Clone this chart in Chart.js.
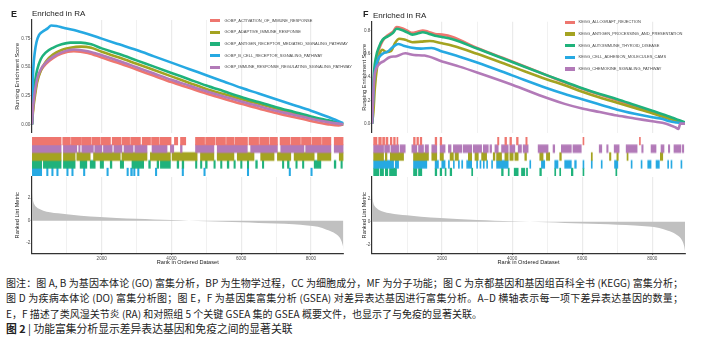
<!DOCTYPE html>
<html>
<head>
<meta charset="utf-8">
<script src="https://cdn.jsdelivr.net/npm/chart.js@4.4.0/dist/chart.umd.min.js"></script>
<style>
  body { margin: 0; background: #fff; }
  #fig { position: relative; width: 727px; height: 343px; overflow: hidden; font-family: "Liberation Sans", Arial, sans-serif; }
  #fig canvas { position: absolute; z-index: 1; }
  .tag { position: absolute; font-weight: bold; font-size: 9px; line-height: 9px; color: #222; z-index: 2; }
  .ttl { position: absolute; font-size: 8px; line-height: 9px; color: #222; z-index: 2; }
  .leg { position: absolute; font-size: 4px; color: #444; z-index: 2; }
  .leg div { position: absolute; left: 0; white-space: nowrap; height: 6px; line-height: 6px; }
  .leg i { position: absolute; left: 0; top: 1.3px; width: 10px; height: 3.4px; }
  .leg span { position: absolute; top: 0; }
  .cap { position: absolute; left: 6px; top: 275px; width: 677px; font-family: "Noto Sans CJK SC", sans-serif; font-size: 10px; line-height: 15.4px; color: #222; }
  .cap .j { text-align: justify; text-align-last: justify; }
  .cap .t { font-size: 10.8px; }
</style>
</head>
<body>
<div id="fig">
  <div class="tag" style="left:11px;top:10px;">E</div>
  <div class="tag" style="left:363px;top:10px;">F</div>
  <div class="ttl" style="left:32px;top:8.8px;">Enriched in RA</div>
  <div class="ttl" style="left:373px;top:10.5px;">Enriched in RA</div>
  <div class="leg" id="legE" style="left:210px;top:17.7px;"></div>
  <div class="leg" id="legF" style="left:565px;top:19.3px;"></div>
  <div class="cap">
    <div class="j">图注：图 A, B 为基因本体论 (GO) 富集分析，BP 为生物学过程，CC 为细胞成分，MF 为分子功能；图 C 为京都基因和基因组百科全书 (KEGG) 富集分析；</div>
    <div class="j">图 D 为疾病本体论 (DO) 富集分析图；图 E，F 为基因集富集分析 (GSEA) 对差异表达基因进行富集分析。A–D 横轴表示每一项下差异表达基因的数量；</div>
    <div>E，F 描述了类风湿关节炎 (RA) 和对照组 5 个关键 GSEA 集的 GSEA 概要文件，也显示了与免疫的显著关联。</div>
    <div class="t"><b>图 2</b> | 功能富集分析显示差异表达基因和免疫之间的显著关联</div>
  </div>
</div>
<script>
// gene list length and x grid
const nGenes = 8935;
const xGridTicks = [1000, 2000, 3000, 4000, 5000, 6000, 7000, 8000];

// gene sets
const setsE = ['GOBP_ACTIVATION_OF_IMMUNE_RESPONSE', 'GOBP_ADAPTIVE_IMMUNE_RESPONSE', 'GOBP_ANTIGEN_RECEPTOR_MEDIATED_SIGNALING_PATHWAY', 'GOBP_B_CELL_RECEPTOR_SIGNALING_PATHWAY', 'GOBP_IMMUNE_RESPONSE_REGULATING_SIGNALING_PATHWAY'];
const setsF = ['KEGG_ALLOGRAFT_REJECTION', 'KEGG_ANTIGEN_PROCESSING_AND_PRESENTATION', 'KEGG_AUTOIMMUNE_THYROID_DISEASE', 'KEGG_CELL_ADHESION_MOLECULES_CAMS', 'KEGG_CHEMOKINE_SIGNALING_PATHWAY'];
const setColors = ['#EE766F', '#A4A321', '#1FB27B', '#26A9E2', '#B27AB8'];

// running enrichment score, [rank, score]
const esE_red = [[0,0],[20,0.1],[50,0.2],[100,0.31],[150,0.39],[250,0.47],[400,0.53],[600,0.58],[850,0.62],[1200,0.64],[1600,0.625],[2000,0.585],[2500,0.535],[3000,0.48],[3500,0.425],[4000,0.37],[4500,0.32],[5000,0.27],[5500,0.225],[6000,0.18],[6500,0.14],[7000,0.10],[7500,0.065],[8000,0.03],[8500,0.0],[8800,-0.01],[8935,0]];
const esE_olive = [[0,0],[20,0.08],[50,0.17],[100,0.28],[150,0.37],[250,0.47],[400,0.55],[600,0.61],[850,0.65],[1100,0.67],[1400,0.68],[1700,0.67],[2000,0.635],[2500,0.585],[3000,0.53],[3500,0.475],[4000,0.42],[4500,0.365],[5000,0.31],[5500,0.265],[6000,0.22],[6500,0.18],[7000,0.14],[7500,0.10],[8000,0.06],[8500,0.025],[8935,0]];
const esE_green = [[0,0],[20,0.15],[50,0.28],[100,0.4],[150,0.48],[250,0.57],[400,0.63],[600,0.67],[850,0.7],[1100,0.715],[1400,0.715],[1700,0.70],[2000,0.665],[2500,0.615],[3000,0.56],[3500,0.505],[4000,0.45],[4500,0.395],[5000,0.34],[5500,0.29],[6000,0.24],[6500,0.195],[7000,0.15],[7500,0.11],[8000,0.07],[8500,0.035],[8935,0.005]];
const esE_blue = [[0,0],[15,0.3],[40,0.5],[80,0.63],[130,0.72],[200,0.78],[300,0.81],[450,0.84],[550,0.865],[700,0.86],[900,0.845],[1200,0.825],[1600,0.79],[2000,0.75],[2500,0.70],[3000,0.65],[3500,0.595],[4000,0.54],[4500,0.485],[5000,0.43],[5500,0.375],[6000,0.32],[6500,0.27],[7000,0.22],[7500,0.17],[8000,0.12],[8500,0.065],[8935,0.01]];
const esE_purple = [[0,0],[20,0.11],[50,0.21],[100,0.32],[150,0.4],[250,0.48],[400,0.54],[600,0.59],[850,0.63],[1200,0.655],[1600,0.64],[2000,0.605],[2500,0.555],[3000,0.50],[3500,0.445],[4000,0.39],[4500,0.34],[5000,0.29],[5500,0.245],[6000,0.20],[6500,0.16],[7000,0.12],[7500,0.085],[8000,0.05],[8500,0.02],[8935,0]];

const esF_red = [[0,0],[30,0.2],[60,0.4],[120,0.55],[200,0.64],[300,0.71],[450,0.76],[600,0.79],[700,0.83],[850,0.82],[1000,0.8],[1150,0.78],[1300,0.79],[1450,0.8],[1600,0.79],[1800,0.77],[2000,0.765],[2300,0.745],[3000,0.65],[4000,0.535],[5000,0.415],[5500,0.355],[6000,0.30],[6500,0.25],[7000,0.20],[7500,0.15],[8000,0.10],[8500,0.05],[8935,0.0]];
const esF_olive = [[0,0],[40,0.1],[80,0.3],[150,0.5],[220,0.6],[300,0.635],[400,0.615],[550,0.625],[650,0.69],[780,0.73],[950,0.72],[1150,0.70],[1400,0.705],[1650,0.71],[2000,0.69],[2300,0.67],[3000,0.6],[4000,0.49],[5000,0.38],[5500,0.33],[6000,0.275],[6500,0.225],[7000,0.18],[7500,0.135],[8000,0.09],[8500,0.04],[8935,0.0]];
const esF_green = [[0,0],[30,0.25],[60,0.45],[120,0.58],[200,0.66],[300,0.72],[450,0.75],[600,0.78],[700,0.815],[850,0.805],[1000,0.785],[1150,0.765],[1300,0.775],[1450,0.785],[1600,0.775],[1800,0.755],[2000,0.745],[2300,0.725],[3000,0.645],[4000,0.53],[5000,0.415],[5500,0.36],[6000,0.305],[6500,0.255],[7000,0.21],[7500,0.16],[8000,0.11],[8500,0.06],[8935,0.01]];
const esF_blue = [[0,0],[30,0.2],[60,0.38],[120,0.5],[200,0.57],[300,0.6],[450,0.62],[600,0.66],[750,0.685],[900,0.67],[1100,0.655],[1400,0.645],[1700,0.65],[2000,0.62],[2500,0.575],[3000,0.525],[4000,0.415],[5000,0.305],[5500,0.255],[6000,0.21],[6500,0.165],[7000,0.12],[7500,0.085],[8000,0.055],[8300,0.04],[8500,0.02],[8700,0.01],[8935,0.0]];
const esF_purple = [[0,0],[30,0.2],[60,0.38],[120,0.47],[200,0.51],[350,0.54],[500,0.57],[700,0.58],[950,0.605],[1200,0.59],[1500,0.585],[2000,0.535],[2500,0.49],[3000,0.44],[4000,0.335],[5000,0.22],[5500,0.17],[6000,0.13],[6500,0.1],[7000,0.07],[7500,0.045],[8000,0.02],[8400,0.0],[8650,-0.03],[8750,-0.045],[8800,0.0],[8935,0.0]];

// gene hits, [start rank, end rank]
const hitsE_red = [[10,835],[882,1100],[1130,1400],[1420,1700],[1730,1950],[1975,2250],[2300,2550],[2580,2800],[2830,3110],[3160,3400],[3430,3650],[3680,3990],[4085,4180],[4260,4410],[4690,4950],[4980,5250],[5280,5550],[5580,5800],[5830,6180],[6224,6500],[6530,6800],[6830,7040],[7116,7400],[7430,7700],[7730,8000],[8030,8300],[8330,8573],[8669,8935]];
const hitsE_purple = [[10,835],[901,1285],[1340,1380],[1430,1760],[1800,2004],[2050,2300],[2350,2580],[2640,2900],[2950,3299],[3443,3874],[3970,4066],[4258,4306],[4690,5217],[5313,6176],[6272,7039],[7135,7800],[7850,8573],[8669,8935]];
const hitsE_olive = [[10,835],[901,1237],[1285,1669],[1765,2532],[2580,3299],[3395,3970],[4018,4737],[4833,5217],[5313,5792],[5888,6368],[6560,6943],[7039,7423],[7519,8094],[8190,8573],[8813,8935]];
const hitsE_green = [[10,278],[326,834],[901,1237],[1381,1573],[1669,1813],[1956,2052],[2244,2292],[2532,2628],[2867,3203],[3347,3395],[3587,3635],[3683,3970],[4162,4210],[4306,4354],[4690,4730],[4833,4873],[4977,5025],[5217,5257],[5409,5449],[5600,5648],[5792,5832],[5984,6024],[6176,6216],[6416,6464],[6608,6648],[7183,7223],[7327,7375],[7567,7607],[7758,7798],[8094,8286],[8669,8717],[8861,8901]];
const hitsE_blue = [[10,278],[420,460],[566,606],[710,750],[997,1037],[1141,1181],[1477,1517],[2148,2188],[2724,2764],[2830,2880],[2915,2955],[3030,3070],[3539,3579],[4306,4346],[4929,4969],[6176,6216],[7375,7415],[7998,8038]];

const hitsF_red = [[47,142],[190,266],[303,360],[398,455],[522,569],[616,664],[711,740],[1185,1233],[1280,1328],[1375,1422],[1802,1849],[1944,1991],[3585,3622],[3793,3841],[3935,3983],[4125,4173],[4391,4429],[6022,6050],[7634,7662]];
const hitsF_purple = [[47,330],[360,500],[540,760],[800,948],[1138,1280],[1328,1470],[1517,1612],[1707,1849],[1944,2086],[2181,2257],[2323,2560],[2600,2845],[2890,3129],[3177,3319],[3367,3414],[3509,3604],[3698,3888],[3935,4078],[4173,4267],[4315,4457],[4742,5026],[5168,5216],[5405,5690],[5737,5974],[6486,6560],[6700,6740],[6913,7055],[7255,7568],[7700,7740],[7966,8108],[8250,8336],[8460,8500],[8620,8819],[8860,8900]];
const hitsF_olive = [[47,330],[380,427],[522,901],[1185,1612],[1707,1849],[1944,2039],[2229,2323],[2371,2466],[2750,2845],[2940,3035],[3129,3272],[3461,3509],[3556,3698],[3793,3888],[3935,4030],[4078,4173],[4362,4410],[4789,4884],[4979,5073],[5358,5405],[6259,6290],[6780,6820],[6990,7030],[7280,7310],[8230,8300]];
const hitsF_blue = [[47,616],[664,759],[1185,1565],[1802,1897],[1991,2086],[2181,2210],[2323,2350],[2466,2495],[2560,2590],[2703,2730],[2750,2845],[2987,3015],[3082,3110],[3177,3205],[3272,3300],[3414,3442],[3556,3888],[4504,4532],[4836,4931],[5216,5310],[5500,5690],[5785,5832],[6022,6050],[6259,6287],[6543,6571],[6923,7018],[7397,7425],[7681,7709],[7871,7966],[8108,8203],[8440,8468],[8535,8563],[8819,8847]];
const hitsF_green = [[47,190],[230,330],[380,450],[500,700],[1185,1280],[1328,1422],[1802,1849],[1944,1991],[2086,2115],[2229,2276],[2845,2875],[3698,3746],[3888,3917],[4059,4173],[4267,4362],[4410,4440],[4789,4836],[5216,5245],[5358,5387],[5690,5737],[6022,6050],[6960,6990]];

// ranked list metric
const metricRank = [0, 15, 40, 80, 135, 200, 325, 516, 750, 995, 1400, 1950, 2430, 3000, 3500, 4000, 4500, 5000, 5500, 6000, 6500, 7000, 7500, 7900, 8200, 8450, 8650, 8780, 8860, 8910, 8935];
const metricValue = [2.5, 2.1, 1.65, 1.38, 1.19, 1.05, 0.89, 0.75, 0.65, 0.57, 0.44, 0.33, 0.24, 0.16, 0.1, 0.05, 0.0, -0.05, -0.1, -0.15, -0.2, -0.26, -0.33, -0.42, -0.55, -0.8, -1.05, -1.35, -1.7, -2.15, -2.6];

const yTicksE = [0, 0.25, 0.5, 0.75];
const yTicksF = [0, 0.2, 0.4, 0.6, 0.8];
const yTicksMetric = [-2, 0, 2];

const panels = [
  { left: 0, padRight: 6.5, titlePad: 13.6, es: [esE_red, esE_olive, esE_green, esE_blue, esE_purple], esMin: -0.073, esMax: 0.913, esTop: 20, yTicks: yTicksE, dec: 2,
    rug: [[hitsE_red, 0], [hitsE_purple, 4], [hitsE_olive, 1], [hitsE_green, 2], [hitsE_blue, 3]], mMin: -2.92, mMax: 3.88, legend: 'legE', sets: setsE },
  { left: 340, padRight: 5, titlePad: 20.6, es: [esF_red, esF_olive, esF_green, esF_blue, esF_purple], esMin: -0.078, esMax: 0.876, esTop: 21.7, yTicks: yTicksF, dec: 1,
    rug: [[hitsF_red, 0], [hitsF_purple, 4], [hitsF_olive, 1], [hitsF_blue, 3], [hitsF_green, 2]], mMin: -2.81, mMax: 3.97, legend: 'legF', sets: setsF }
];

const fig = document.getElementById('fig');
function addCanvas(left, top, w, h) {
  const c = document.createElement('canvas');
  c.width = w; c.height = h;
  c.style.left = left + 'px'; c.style.top = top + 'px';
  c.style.width = w + 'px'; c.style.height = h + 'px';
  fig.appendChild(c);
  return c;
}

const tickFont = { family: 'Liberation Sans', size: 4.6 };
const titleFont = { family: 'Liberation Sans', size: 5.6 };
const noPlugins = { legend: { display: false }, tooltip: { enabled: false } };

function xGrid(showLabels) {
  return {
    type: 'linear', min: 0, max: nGenes,
    afterBuildTicks: s => { s.ticks = xGridTicks.map(v => ({ value: v })); },
    ticks: { display: showLabels, font: tickFont, color: '#4d4d4d', padding: 0.5, maxRotation: 0, autoSkip: false,
      callback: v => (v % 2000 === 0 ? String(v) : '') },
    grid: { color: '#ebebeb', lineWidth: c => (c.tick && c.tick.value % 2000 === 0 ? 1.2 : 0.7),
      drawTicks: showLabels, tickLength: 1.5, tickWidth: 1,
      tickColor: c => (c.tick && c.tick.value % 2000 === 0 ? '#333' : 'rgba(0,0,0,0)') },
    border: { display: showLabels, color: '#333', width: 1.2 }
  };
}

function yAxis(p, min, max, ticks, fmt, title) {
  return {
    min: min, max: max,
    afterBuildTicks: s => { s.ticks = ticks.map(v => ({ value: v })); },
    afterFit: s => { s.width = 32; },
    ticks: { font: tickFont, color: '#4d4d4d', padding: 0.5, callback: fmt },
    grid: { drawOnChartArea: false, tickLength: 1.2, tickColor: '#333', tickWidth: 1 },
    border: { display: true, color: '#333', width: 1.2 },
    title: { display: true, text: title, font: titleFont, color: '#222', padding: { top: p.titlePad, bottom: 0 } }
  };
}

panels.forEach(p => {
  // running enrichment score
  const esCv = addCanvas(p.left, 0, 350, 136);
  new Chart(esCv, {
    type: 'line',
    data: {
      datasets: p.es.map((s, i) => ({
        data: s.map(pt => ({ x: pt[0], y: pt[1] })),
        borderColor: setColors[i], borderWidth: 2.6, pointRadius: 0,
        cubicInterpolationMode: 'monotone', order: -i
      }))
    },
    options: {
      responsive: false, animation: false, devicePixelRatio: 1,
      layout: { padding: { top: p.esTop, right: p.padRight, bottom: 1, left: 0 } },
      plugins: noPlugins,
      scales: {
        x: Object.assign(xGrid(false), { afterFit: s => { s.height = 0; } }),
        y: yAxis(p, p.esMin, p.esMax, p.yTicks, v => v.toFixed(p.dec), 'Running Enrichment Score')
      }
    }
  });

  // gene hit rug
  const rows = ['r0', 'r1', 'r2', 'r3', 'r4'];
  const rugCv = addCanvas(p.left, 137, 350, 38.5);
  new Chart(rugCv, {
    type: 'bar',
    data: {
      labels: rows,
      datasets: p.rug.map((r, k) => ({
        data: r[0].map(iv => ({ y: rows[k], x: iv })),
        backgroundColor: setColors[r[1]], borderWidth: 0,
        grouped: false, barPercentage: 1, categoryPercentage: 1
      }))
    },
    options: {
      indexAxis: 'y', responsive: false, animation: false, devicePixelRatio: 1,
      layout: { padding: { top: 0, right: p.padRight, bottom: 0, left: 32 } },
      plugins: noPlugins,
      scales: { x: { type: 'linear', min: 0, max: nGenes, display: false }, y: { display: false } }
    }
  });

  // ranked list metric
  const mCv = addCanvas(p.left, 170, 350, 100);
  new Chart(mCv, {
    type: 'line',
    data: {
      datasets: [{
        data: metricRank.map((r, i) => ({ x: r, y: metricValue[i] })),
        borderWidth: 0, borderColor: 'rgba(0,0,0,0)', backgroundColor: '#c0c0c0',
        fill: 'origin', pointRadius: 0, cubicInterpolationMode: 'monotone'
      }]
    },
    options: {
      responsive: false, animation: false, devicePixelRatio: 1,
      layout: { padding: { top: 7, right: p.padRight, bottom: 0, left: 0 } },
      plugins: noPlugins,
      scales: {
        x: Object.assign(xGrid(true), {
          afterFit: s => { s.height = 16.5; },
          title: { display: true, text: 'Rank in Ordered Dataset', font: titleFont, color: '#222', padding: { top: 0, bottom: 3.9 } }
        }),
        y: yAxis(p, p.mMin, p.mMax, yTicksMetric, v => String(v), 'Ranked List Metric')
      }
    }
  });

  // legend
  const leg = document.getElementById(p.legend);
  p.sets.forEach((name, i) => {
    const row = document.createElement('div');
    row.style.top = (i * 11.7) + 'px';
    row.innerHTML = '<i style="background:' + setColors[i] + '"></i><span style="left:' + (p.left ? 13.5 : 14.5) + 'px">' + name + '</span>';
    leg.appendChild(row);
  });
});
</script>
</body>
</html>
